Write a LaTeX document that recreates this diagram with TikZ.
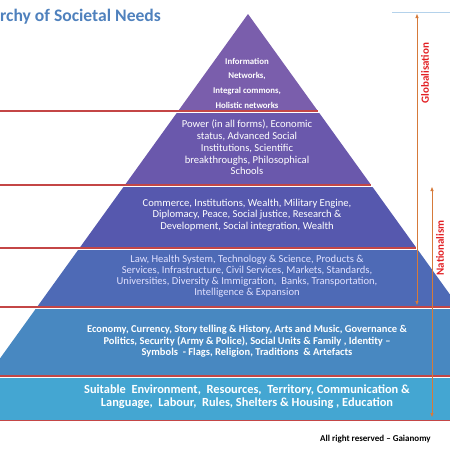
\documentclass[tikz,border=0pt]{standalone}
\usepackage{fontspec}
\setmainfont{Carlito}
\usepackage{xcolor}
\usetikzlibrary{arrows.meta}

\definecolor{bandA}{RGB}{122,94,172}
\definecolor{bandB}{RGB}{106,88,172}
\definecolor{bandC}{RGB}{86,88,174}
\definecolor{bandD}{RGB}{78,106,182}
\definecolor{bandE}{RGB}{72,136,193}
\definecolor{bandF}{RGB}{68,166,210}
\definecolor{redline}{RGB}{196,70,70}
\definecolor{arrorange}{RGB}{214,122,58}
\definecolor{sidered}{RGB}{226,32,36}
\definecolor{titleblue}{RGB}{79,129,189}

\begin{document}
\begin{tikzpicture}[x=1pt, y=-1pt,
	sep/.style={draw=redline, line width=1.1pt},
	txt/.style={text=white, align=center, inner sep=0pt},
	arr/.style={draw=arrorange, line width=0.8pt, {Triangle[length=4pt,width=3pt]}-{Triangle[length=4pt,width=3pt]}},
	side/.style={text=sidered, font=\bfseries\fontsize{11}{13}\selectfont, rotate=90, inner sep=0pt}]
	\useasboundingbox (0,0) rectangle (450,450);
	\clip (0,0) rectangle (450,450);
	% bands
	\foreach \t/\b/\c in {14/110/bandA, 113/184/bandB, 187/247/bandC, 250/306/bandD, 309/375/bandE, 378/420/bandF}
		\fill[\c] ({248-0.72*(\t-14)},\t) -- ({248+0.72*(\t-14)},\t) -- ({248+0.72*(\b-14)},\b) -- ({248-0.72*(\b-14)},\b) -- cycle;
	\foreach \y in {111,185,248,307,376,420.5}
		\draw[sep] (0,\y) -- ({248+0.72*(\y-14)},\y);
	% texts
	\node[txt, font=\bfseries\fontsize{8.8}{14.7}\selectfont] (info) at (247,83) {Information\\Networks,\\Integral commons,\\Holistic networks};
	\node[txt, font=\fontsize{10.6}{11.8}\selectfont] (power) at (247,147.5) {Power (in all forms), Economic\\status, Advanced Social\\Institutions, Scientific\\breakthroughs, Philosophical\\Schools};
	\node[txt, font=\fontsize{10.6}{11.5}\selectfont] (commerce) at (247,215) {Commerce, Institutions, Wealth, Military Engine,\\Diplomacy, Peace, Social justice, Research \&\\Development, Social integration, Wealth};
	\node[txt, text=white!88!blue, font=\fontsize{10.6}{11}\selectfont] (law) at (247,276.5) {Law, Health System, Technology \& Science, Products \&\\Services, Infrastructure, Civil Services, Markets, Standards,\\Universities, Diversity \& Immigration,\ \ Banks, Transportation,\\Intelligence \& Expansion};
	\node[txt, font=\bfseries\fontsize{10.5}{11.5}\selectfont] (economy) at (247,341.5) {Economy, Currency, Story telling \& History, Arts and Music, Governance \&\\Politics, Security (Army \& Police), Social Units \& Family , Identity --\\Symbols\ \ - Flags, Religion, Traditions\ \ \& Artefacts};
	\node[txt, font=\bfseries\fontsize{12.4}{12.8}\selectfont] (environment) at (247,397) {Suitable\ \ Environment,\ \ Resources,\ \ Territory, Communication \&\\Language,\ \ Labour,\ \ Rules, Shelters \& Housing , Education};
	% title and footer
	\node[anchor=west, inner sep=0pt, text=titleblue, font=\bfseries\fontsize{17.6}{20}\selectfont] (title) at (0,17) {rchy of Societal Needs};
	\node[anchor=west, inner sep=0pt, font=\bfseries\fontsize{9}{10}\selectfont] (footer) at (320,439) {All right reserved -- Gaianomy};
	% arrows
	\draw[draw={rgb,255:red,180;green,210;blue,235}, line width=0.8pt] (392,12) -- (450,12);
	\coordinate (gtop) at (417,14);
	\coordinate (gbot) at (417,305);
	\coordinate (ntop) at (432,187);
	\coordinate (nbot) at (432,417);
	\draw[arr] (gtop) -- (gbot);
	\draw[arr] (ntop) -- (nbot);
	\node[side] (glob) at (425,73) {Globalisation};
	\node[side] (nat) at (440,248) {Nationalism};
\end{tikzpicture}
\end{document}
